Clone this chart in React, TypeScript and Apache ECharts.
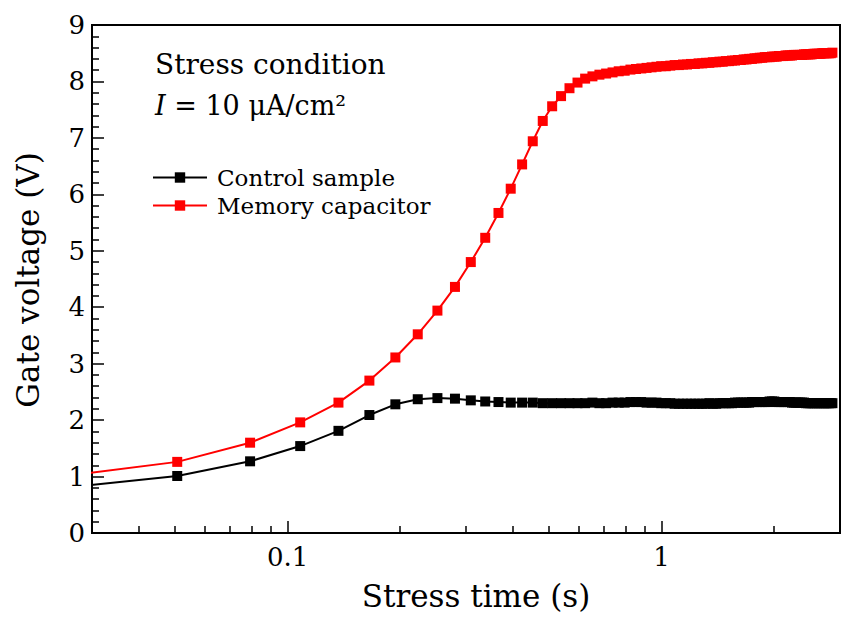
import React, { useEffect, useRef } from "react";
import * as echarts from "echarts";

const times = [
  0.022, 0.0507, 0.0794, 0.1081, 0.1368, 0.1655, 0.1942, 0.2229, 0.2516, 0.2803,
  0.309, 0.3377, 0.3664, 0.3951, 0.4238, 0.4525, 0.4812, 0.5099, 0.5386, 0.5673,
  0.596, 0.6247, 0.6534, 0.6821, 0.7108, 0.7395, 0.7682, 0.7969, 0.8256, 0.8543,
  0.883, 0.9117, 0.9404, 0.9691, 0.9978, 1.0265, 1.0552, 1.0839, 1.1126, 1.1413,
  1.17, 1.1987, 1.2274, 1.2561, 1.2848, 1.3135, 1.3422, 1.3709, 1.3996, 1.4283,
  1.457, 1.4857, 1.5144, 1.5431, 1.5718, 1.6005, 1.6292, 1.6579, 1.6866, 1.7153,
  1.744, 1.7727, 1.8014, 1.8301, 1.8588, 1.8875, 1.9162, 1.9449, 1.9736, 2.0023,
  2.031, 2.0597, 2.0884, 2.1171, 2.1458, 2.1745, 2.2032, 2.2319, 2.2606, 2.2893,
  2.318, 2.3467, 2.3754, 2.4041, 2.4328, 2.4615, 2.4902, 2.5189, 2.5476, 2.5763,
  2.605, 2.6337, 2.6624, 2.6911, 2.7198, 2.7485, 2.7772, 2.8059, 2.8346, 2.8633,
];

const memoryCapacitor = [
  0.96, 1.26, 1.6, 1.96, 2.31, 2.7, 3.11, 3.52, 3.94, 4.36,
  4.8, 5.23, 5.67, 6.1, 6.53, 6.94, 7.3, 7.56, 7.74, 7.88,
  7.98, 8.05, 8.09, 8.12, 8.14, 8.16, 8.18, 8.19, 8.21, 8.22,
  8.23, 8.24, 8.25, 8.26, 8.27, 8.27, 8.28, 8.29, 8.29, 8.3,
  8.3, 8.31, 8.31, 8.32, 8.32, 8.33, 8.33, 8.34, 8.34, 8.35,
  8.35, 8.36, 8.36, 8.37, 8.37, 8.38, 8.38, 8.39, 8.39, 8.4,
  8.4, 8.41, 8.41, 8.42, 8.42, 8.43, 8.43, 8.43, 8.44, 8.44,
  8.44, 8.45, 8.45, 8.45, 8.46, 8.46, 8.46, 8.46, 8.47, 8.47,
  8.47, 8.47, 8.47, 8.48, 8.48, 8.48, 8.48, 8.48, 8.49, 8.49,
  8.49, 8.49, 8.49, 8.5, 8.5, 8.5, 8.5, 8.5, 8.5, 8.51,
];

const controlSample = [
  0.76, 1.01, 1.27, 1.54, 1.81, 2.09, 2.28, 2.37, 2.39, 2.38,
  2.35, 2.33, 2.32, 2.31, 2.31, 2.31, 2.3, 2.3, 2.3, 2.3,
  2.3, 2.3, 2.31, 2.3, 2.3, 2.31, 2.31, 2.31, 2.32, 2.32,
  2.32, 2.31, 2.31, 2.31, 2.3, 2.3, 2.3, 2.29, 2.29, 2.29,
  2.29, 2.29, 2.29, 2.29, 2.29, 2.29, 2.3, 2.29, 2.29, 2.3,
  2.3, 2.3, 2.3, 2.3, 2.31, 2.31, 2.31, 2.31, 2.31, 2.31,
  2.32, 2.32, 2.32, 2.32, 2.32, 2.32, 2.32, 2.33, 2.33, 2.33,
  2.32, 2.32, 2.32, 2.32, 2.32, 2.32, 2.32, 2.31, 2.31, 2.31,
  2.31, 2.31, 2.31, 2.31, 2.3, 2.3, 2.3, 2.3, 2.3, 2.3,
  2.3, 2.3, 2.3, 2.3, 2.3, 2.3, 2.3, 2.3, 2.3, 2.3,
];

const xMajorTicks = [0.1, 1];
const xMinorTicks = [0.03, 0.04, 0.05, 0.06, 0.07, 0.08, 0.09, 0.2, 0.3, 0.4, 0.5, 0.6, 0.7, 0.8, 0.9, 2, 3];

const FONT = "DejaVu Serif";

export default function App() {
  const ref = useRef<HTMLDivElement>(null);
  useEffect(() => {
    if (!ref.current) return;
    const chart = echarts.init(ref.current, null, { renderer: "svg" });
    const pair = (ys: number[]) => times.map((t, i) => [t, ys[i]]);
    chart.setOption({
      animation: false,
      backgroundColor: "#ffffff",
      grid: {
        left: 92,
        right: 11,
        top: 25,
        bottom: 88,
        show: true,
        borderColor: "#000",
        borderWidth: 2,
        backgroundColor: "transparent",
      },
      legend: {
        orient: "vertical",
        left: 152,
        top: 166,
        padding: 0,
        itemWidth: 54,
        itemHeight: 13,
        itemGap: 5,
        textStyle: { fontFamily: FONT, fontSize: 23, color: "#000", padding: [0, 0, 0, 5] },
        data: ["Control sample", "Memory capacitor"],
      },
      xAxis: [
        {
          type: "log",
          logBase: 10,
          min: 0.03,
          max: 3,
          axisLine: { show: true, onZero: false, lineStyle: { color: "#000", width: 2 } },
          axisTick: { show: true, inside: true, length: 12, customValues: xMajorTicks, lineStyle: { color: "#000", width: 1.5 } },
          axisLabel: {
            customValues: xMajorTicks,
            margin: 11,
            fontFamily: FONT,
            fontSize: 26,
            color: "#000",
            formatter: (v: number) => (v < 1 ? "0.1" : "1"),
          },
          splitLine: { show: false },
          minorTick: { show: false },
        },
        {
          type: "log",
          logBase: 10,
          min: 0.03,
          max: 3,
          position: "bottom",
          offset: 0,
          axisLine: { show: false },
          axisTick: { show: true, inside: true, length: 7, customValues: xMinorTicks, lineStyle: { color: "#000", width: 1.5 } },
          axisLabel: { show: false },
          splitLine: { show: false },
        },
      ],
      yAxis: {
        type: "value",
        min: 0,
        max: 9,
        interval: 1,
        axisLine: { show: true, lineStyle: { color: "#000", width: 2 } },
        axisTick: { show: true, inside: true, length: 12, lineStyle: { color: "#000", width: 1.5 } },
        minorTick: { show: true, splitNumber: 5, length: 7, lineStyle: { color: "#000", width: 1.5 } },
        axisLabel: { margin: 7, fontFamily: FONT, fontSize: 26, color: "#000" },
        splitLine: { show: false },
      },
      graphic: [
        {
          type: "text",
          x: 476,
          y: 596,
          style: { text: "Stress time (s)", font: `31px '${FONT}'`, fill: "#000", textAlign: "center", textVerticalAlign: "middle" },
        },
        {
          type: "text",
          x: 28,
          y: 280,
          rotation: Math.PI / 2,
          style: { text: "Gate voltage (V)", font: `31px '${FONT}'`, fill: "#000", textAlign: "center", textVerticalAlign: "middle" },
        },
        {
          type: "text",
          x: 155,
          y: 64,
          style: { text: "Stress condition", font: `28px '${FONT}'`, fill: "#000", textAlign: "left", textVerticalAlign: "middle" },
        },
        {
          type: "text",
          x: 155,
          y: 105,
          style: {
            text: "{it|I} = 10 μA/cm²",
            font: `27px '${FONT}'`,
            fill: "#000",
            textAlign: "left",
            textVerticalAlign: "middle",
            rich: { it: { fontStyle: "italic", fontFamily: FONT, fontSize: 27, fill: "#000" } },
          },
        },
      ],
      series: [
        {
          name: "Control sample",
          type: "line",
          xAxisIndex: 0,
          data: pair(controlSample),
          symbol: "rect",
          symbolSize: 10,
          showAllSymbol: true,
          clip: true,
          itemStyle: { color: "#000000" },
          lineStyle: { color: "#000000", width: 2 },
          z: 2,
        },
        {
          name: "Memory capacitor",
          type: "line",
          xAxisIndex: 0,
          data: pair(memoryCapacitor),
          symbol: "rect",
          symbolSize: 10,
          showAllSymbol: true,
          clip: true,
          itemStyle: { color: "#ff0000" },
          lineStyle: { color: "#ff0000", width: 2 },
          z: 3,
        },
      ],
    });
    return () => chart.dispose();
  }, []);
  return <div ref={ref} style={{ position: "absolute", left: 0, top: 0, width: 851, height: 621 }} />;
}
